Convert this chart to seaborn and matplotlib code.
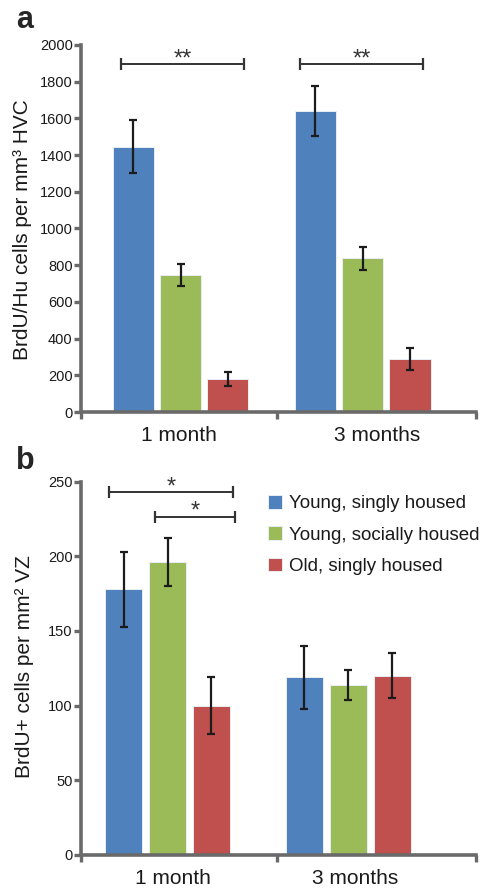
import numpy as np
import pandas as pd
import seaborn as sns
import matplotlib.pyplot as plt
from matplotlib.ticker import FixedLocator

# data
groups = ['Young, singly housed', 'Young, socially housed', 'Old, singly housed']
periods = ['1 month', '3 months']

hu_mean = [[1445, 745, 180], [1640, 838, 290]]
hu_err = [[143, 60, 38], [137, 62, 58]]

vz_mean = [[178, 196, 100], [119, 114, 120]]
vz_err = [[25, 16, 19], [21, 10, 15]]

# significance brackets: (x0, x1, y, label) in data coords
sig_a = [(-0.327, 0.349, 1896, '**'), (0.657, 1.333, 1896, '**')]
sig_b = [(-0.324, 0.363, 243, '*'), (-0.069, 0.374, 226.6, '*')]

colors = ['#4F81BD', '#9BBB59', '#C0504D']
spine_col = '#6a6a6a'
txt_col = '#1a1a1a'

sns.set_style('ticks')
plt.rcParams['font.family'] = ['Liberation Sans', 'DejaVu Sans']


def long_df(means):
    rows = []
    for i, p in enumerate(periods):
        for j, g in enumerate(groups):
            rows.append({'period': p, 'group': g, 'value': means[i][j]})
    return pd.DataFrame(rows)


def draw(ax, means, errs, width, gap, xlim, ylim, yticks, sig, legend):
    df = long_df(means)
    sns.barplot(data=df, x='period', y='value', hue='group', order=periods,
                hue_order=groups, palette=colors, saturation=1, width=width,
                gap=gap, errorbar=None, edgecolor='#e8eef5', linewidth=0.7,
                legend=legend, ax=ax)
    # error bars centred on the drawn bars
    bars = list(ax.containers)
    for j, cont in enumerate(bars):
        xs = [b.get_x() + b.get_width() / 2 for b in cont]
        ax.errorbar(xs, [means[i][j] for i in range(len(periods))],
                    yerr=[errs[i][j] for i in range(len(periods))],
                    fmt='none', ecolor='#1c1c1c', elinewidth=1.6,
                    capsize=3, capthick=1.6, zorder=5)
    for x0, x1, y, lab in sig:
        ax.plot([x0, x1], [y, y], color='#333333', lw=1.4,
                marker='|', markersize=9, markeredgewidth=1.6, zorder=5)
        ax.annotate(lab, ((x0 + x1) / 2, y), xytext=(0, 3.5),
                    textcoords='offset points', ha='center', va='center',
                    fontsize=17, color='#333333')
    ax.set_xlim(*xlim)
    ax.set_ylim(*ylim)
    ax.set_yticks(yticks)
    ax.set_xlabel('')
    sns.despine(ax=ax)
    for s in ['left', 'bottom']:
        ax.spines[s].set_color(spine_col)
        ax.spines[s].set_linewidth(2.6)
    ax.tick_params(axis='y', direction='out', length=5, width=2.4, left=True,
                   color=spine_col, labelsize=10.5, labelcolor=txt_col, pad=1)
    ax.tick_params(axis='x', which='major', length=0, labelsize=15,
                   labelcolor=txt_col, pad=10)
    ax.tick_params(axis='x', which='minor', direction='out', length=5,
                   bottom=True, width=2.4, color=spine_col)
    ax.yaxis.label.set_size(15)
    ax.yaxis.label.set_color(txt_col)


fig = plt.figure(figsize=(4.82, 8.96), dpi=100)
ax_a = fig.add_axes([0.168, 0.540, 0.820, 0.410])
ax_b = fig.add_axes([0.168, 0.0458, 0.820, 0.4166])

draw(ax_a, hu_mean, hu_err, 0.78, 0.13, (-0.547, 1.624), (0, 2000),
     np.arange(0, 2001, 200), sig_a, False)
ax_a.set_xticks([0.53 + (-0.547 - 0.53) / 2, 0.53 + (1.624 - 0.53) / 2])
ax_a.set_xticklabels(periods)
ax_a.xaxis.set_minor_locator(FixedLocator([-0.547, 0.53, 1.624]))
ax_a.set_ylabel('BrdU/Hu cells per mm³ HVC')
ax_a.yaxis.set_label_coords(-0.125, 0.496)

draw(ax_b, vz_mean, vz_err, 0.73, 0.16, (-0.479, 1.709), (0, 250),
     np.arange(0, 251, 50), sig_b, True)
ax_b.set_xticks([0.03, 1.04])
ax_b.set_xticklabels(periods)
ax_b.xaxis.set_minor_locator(FixedLocator([-0.479, 0.607, 1.709]))
ax_b.set_ylabel('BrdU+ cells per mm² VZ')
ax_b.yaxis.set_label_coords(-0.12, 0.505)
leg = ax_b.legend(loc='upper left', bbox_to_anchor=(0.455, 0.985),
                  frameon=False, fontsize=13.5, handlelength=0.75,
                  handleheight=0.75, handletextpad=0.35, labelspacing=0.75,
                  borderaxespad=0)
for t in leg.get_texts():
    t.set_color(txt_col)

fig.text(0.033, 0.969, 'a', fontsize=22, fontweight='bold', va='baseline')
fig.text(0.033, 0.4766, 'b', fontsize=22, fontweight='bold', va='baseline')

fig.savefig('out.png', dpi=100)
